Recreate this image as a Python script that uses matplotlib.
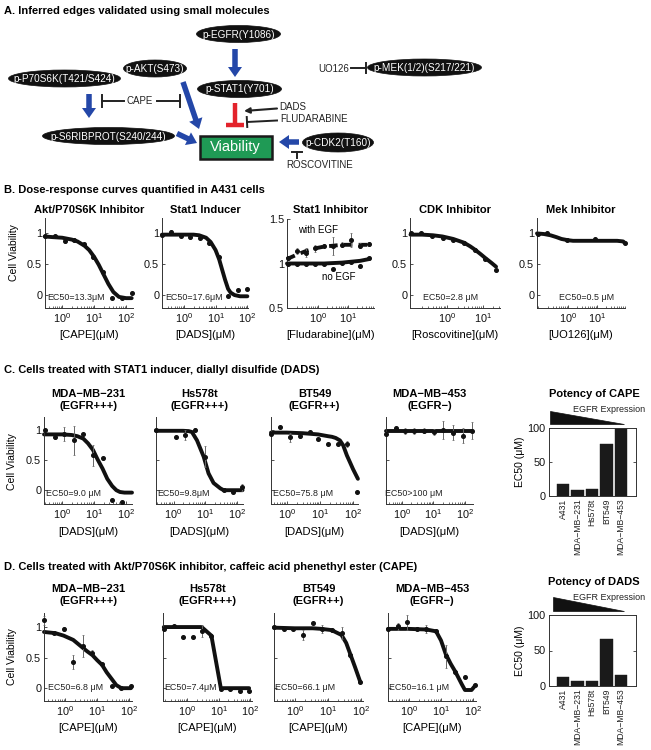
import numpy as np
import matplotlib
matplotlib.use('Agg')
import matplotlib.pyplot as plt
from matplotlib.patches import Ellipse, Rectangle, Polygon, FancyArrow
from matplotlib.ticker import FixedLocator, LogLocator, NullFormatter

plt.rcParams['font.family'] = ['Liberation Sans', 'DejaVu Sans']
plt.rcParams['mathtext.fontset'] = 'custom'
plt.rcParams['mathtext.rm'] = 'Liberation Sans'
plt.rcParams['mathtext.it'] = 'Liberation Sans:italic'
plt.rcParams['mathtext.bf'] = 'Liberation Sans:bold'

# ======================= DATA =======================
panel_titles = ['A. Inferred edges validated using small molecules',
                'B. Dose-response curves quantified in A431 cells',
                'C. Cells treated with STAT1 inducer, diallyl disulfide (DADS)',
                'D. Cells treated with Akt/P70S6K inhibitor, caffeic acid phenethyl ester (CAPE)']

# Panel A network
node_labels = ['p-EGFR(Y1086)', 'p-AKT(S473)', 'p-P70S6K(T421/S424)', 'p-STAT1(Y701)',
               'p-MEK(1/2)(S217/221)', 'p-S6RIBPROT(S240/244)', 'p-CDK2(T160)']
drug_labels = ['CAPE', 'DADS', 'FLUDARABINE', 'ROSCOVITINE', 'UO126']
outcome_label = 'Viability'

# Panel B (A431 cells)
b_titles = ['Akt/P70S6K Inhibitor', 'Stat1 Inducer', 'Stat1 Inhibitor', 'CDK Inhibitor', 'Mek Inhibitor']
b_xlabels = ['[CAPE](μM)', '[DADS](μM)', '[Fludarabine](μM)', '[Roscovitine](μM)', '[UO126](μM)']
b_ec50 = ['EC50=13.3μM', 'EC50=17.6μM', '', 'EC50=2.8 μM', 'EC50=0.5 μM']

b1_dose = [0.3, 0.6, 1.2, 2.3, 4.7, 9.4, 18.8, 37.5, 75, 150]
b1_resp = [0.96, 0.95, 0.87, 0.90, 0.83, 0.62, 0.37, -0.04, -0.05, 0.03]
b1_err = [0.02, 0.02, 0.03, 0.02, 0.02, 0.03, 0.03, 0.02, 0.02, 0.02]
b1_fitx = [0.29, 0.5, 1, 2, 3, 5, 7, 10, 14, 20, 28, 40, 60, 100, 150]
b1_fity = [0.95, 0.94, 0.93, 0.90, 0.87, 0.80, 0.73, 0.62, 0.49, 0.33, 0.18, 0.05, -0.03, -0.05, -0.05]

b2_dose = [0.2, 0.4, 0.8, 1.6, 3.2, 6.4, 12.8, 25.6, 51, 102]
b2_resp = [0.97, 1.03, 0.96, 0.94, 0.93, 0.85, 0.62, -0.02, 0.09, 0.10]
b2_err = [0.01, 0.02, 0.02, 0.03, 0.02, 0.02, 0.03, 0.01, 0.01, 0.01]
b2_fitx = [0.2, 1, 2, 3, 5, 7, 10, 13, 16, 20, 25, 30, 40, 60, 102]
b2_fity = [0.98, 0.98, 0.98, 0.97, 0.93, 0.86, 0.73, 0.58, 0.42, 0.25, 0.10, 0.04, 0.0, -0.02, -0.02]

b3_dose = [0.1, 0.2, 0.4, 0.8, 1.6, 3.2, 6.4, 12.8, 25.6, 51]
b3_egf_resp = [1.06, 1.14, 1.12, 1.17, 1.20, 1.20, 1.21, 1.26, 1.20, 1.22]
b3_egf_err = [0.02, 0.03, 0.05, 0.04, 0.02, 0.10, 0.03, 0.08, 0.03, 0.02]
b3_egf_fit = [1.05, 1.10, 1.14, 1.17, 1.19, 1.20, 1.21, 1.21, 1.21, 1.21]
b3_noegf_resp = [1.0, 1.0, 1.0, 0.99, 1.0, 0.94, 1.01, 1.02, 0.97, 1.06]
b3_noegf_err = [0.01, 0.01, 0.01, 0.01, 0.01, 0.01, 0.01, 0.01, 0.01, 0.01]
b3_noegf_fit = [1.0, 1.0, 1.0, 1.0, 1.0, 1.005, 1.01, 1.02, 1.03, 1.05]

b4_dose = [0.094, 0.19, 0.375, 0.75, 1.5, 3, 6, 12, 24]
b4_resp = [1.0, 1.01, 0.96, 0.92, 0.90, 0.85, 0.73, 0.58, 0.41]
b4_err = [0.01, 0.02, 0.01, 0.02, 0.01, 0.01, 0.02, 0.01, 0.02]
b4_fitx = [0.094, 0.2, 0.4, 0.75, 1.5, 3, 4.5, 6, 9, 12, 18, 24]
b4_fity = [0.98, 0.98, 0.97, 0.95, 0.91, 0.85, 0.79, 0.74, 0.66, 0.60, 0.52, 0.46]

b5_dose = [0.09, 0.19, 0.9, 8.5, 90]
b5_resp = [0.99, 1.01, 0.90, 0.91, 0.84]
b5_err = [0.01, 0.02, 0.01, 0.02, 0.01]
b5_fitx = [0.086, 0.15, 0.25, 0.4, 0.6, 1, 1.5, 3, 10, 50, 80, 90]
b5_fity = [1.0, 0.99, 0.97, 0.94, 0.91, 0.89, 0.88, 0.88, 0.88, 0.88, 0.87, 0.85]

# Panel C (DADS)
c_titles = ['MDA−MB−231\n(EGFR+++)', 'Hs578t\n(EGFR+++)', 'BT549\n(EGFR++)', 'MDA−MB−453\n(EGFR−)']
c_xlabel = '[DADS](μM)'
c_ec50 = ['EC50=9.0 μM', 'EC50=9.8μM', 'EC50=75.8 μM', 'EC50>100 μM']

c1_dose = [0.29, 0.58, 1.16, 2.3, 4.6, 9.3, 18.5, 37, 74]
c1_resp = [1.01, 0.88, 0.94, 0.83, 0.93, 0.58, 0.53, -0.17, -0.20]
c1_err = [0.01, 0.02, 0.12, 0.24, 0.02, 0.18, 0.02, 0.01, 0.01]
c1_fitx = [0.27, 1, 2, 3, 4.6, 6.5, 9.3, 13, 18.5, 26, 37, 50, 65, 90, 155]
c1_fity = [0.93, 0.93, 0.92, 0.90, 0.86, 0.78, 0.67, 0.51, 0.36, 0.19, 0.07, 0.0, -0.03, -0.04, -0.04]

c2_dose = [0.28, 1.18, 2.3, 4.6, 10, 38, 75, 145]
c2_resp = [1.0, 0.89, 0.92, 1.01, 0.56, 0.0, -0.03, 0.05]
c2_err = [0.01, 0.02, 0.08, 0.02, 0.18, 0.01, 0.01, 0.06]
c2_fitx = [0.28, 1, 2, 3, 3.8, 5.5, 8.9, 12.7, 18.3, 30, 38, 150]
c2_fity = [0.99, 0.99, 0.99, 0.985, 0.97, 0.83, 0.56, 0.28, 0.12, 0.03, 0.0, 0.0]

c3_dose = [0.33, 0.61, 1.23, 2.47, 4.97, 8.7, 17.5, 35, 65, 132]
c3_resp = [0.93, 1.05, 0.88, 0.90, 0.97, 0.86, 0.77, 0.77, 0.77, -0.03]
c3_err = [0.01, 0.02, 0.08, 0.03, 0.01, 0.01, 0.02, 0.02, 0.05, 0.01]
c3_fitx = [0.33, 1, 3, 8.7, 17.5, 23, 30, 40, 50, 65, 80, 100, 140]
c3_fity = [0.96, 0.96, 0.95, 0.93, 0.90, 0.89, 0.87, 0.83, 0.75, 0.58, 0.47, 0.35, 0.19]

c4_dose = [0.31, 0.64, 1.25, 2.4, 5.0, 10.3, 20, 41, 86, 167]
c4_resp = [0.93, 1.04, 0.99, 0.99, 0.99, 0.97, 1.01, 0.96, 0.91, 0.99]
c4_err = [0.01, 0.02, 0.05, 0.05, 0.04, 0.05, 0.15, 0.12, 0.13, 0.14]
c4_fitx = [0.31, 1, 10, 167]
c4_fity = [0.99, 0.99, 0.99, 0.99]

# Panel D (CAPE)
d_titles = ['MDA−MB−231\n(EGFR+++)', 'Hs578t\n(EGFR+++)', 'BT549\n(EGFR++)', 'MDA−MB−453\n(EGFR−)']
d_xlabel = '[CAPE](μM)'
d_ec50 = ['EC50=6.8 μM', 'EC50=7.4μM', 'EC50=66.1 μM', 'EC50=16.1 μM']

d1_dose = [0.22, 0.45, 0.9, 1.8, 3.6, 7.2, 14.4, 28.8, 57.6, 115]
d1_resp = [1.11, 0.91, 0.97, 0.43, 0.69, 0.58, 0.39, 0.03, 0.0, 0.03]
d1_err = [0.07, 0.01, 0.03, 0.11, 0.18, 0.04, 0.03, 0.01, 0.01, 0.01]
d1_fitx = [0.22, 0.5, 0.9, 1.8, 3.6, 5, 7.2, 10, 14.4, 20, 28.8, 40, 57.6, 115]
d1_fity = [0.92, 0.90, 0.86, 0.79, 0.66, 0.60, 0.54, 0.46, 0.38, 0.26, 0.15, 0.05, 0.0, 0.0]

d2_dose = [0.18, 0.37, 0.74, 1.5, 2.9, 5.9, 11.8, 23.5, 47, 94]
d2_resp = [0.97, 1.02, 0.83, 0.83, 0.93, 0.86, -0.01, -0.02, -0.05, -0.05]
d2_err = [0.01, 0.01, 0.01, 0.01, 0.10, 0.01, 0.01, 0.01, 0.01, 0.01]
d2_fitx = [0.18, 0.37, 0.74, 1.5, 2.9, 5.9, 11.8, 23.5, 47, 94]
d2_fity = [1.0, 1.0, 1.0, 1.0, 1.0, 0.86, 0.0, 0.0, 0.0, 0.0]

d3_dose = [0.236, 0.47, 0.87, 1.73, 3.45, 6.4, 12.7, 25.3, 47, 93]
d3_resp = [1.0, 0.97, 0.97, 0.87, 1.06, 0.97, 0.95, 0.90, 0.55, 0.10]
d3_err = [0.01, 0.01, 0.01, 0.08, 0.01, 0.07, 0.02, 0.10, 0.02, 0.02]
d3_fitx = [0.236, 1, 3.45, 6.4, 12.7, 25.3, 35, 47, 65, 93]
d3_fity = [0.99, 0.98, 0.98, 0.97, 0.95, 0.87, 0.74, 0.55, 0.34, 0.10]

d4_dose = [0.22, 0.44, 0.88, 1.75, 3.5, 7, 14, 28, 56, 112]
d4_resp = [0.97, 1.01, 1.08, 0.97, 0.97, 0.94, 0.52, 0.27, 0.18, 0.06]
d4_err = [0.01, 0.05, 0.12, 0.01, 0.07, 0.02, 0.19, 0.01, 0.01, 0.01]
d4_fitx = [0.22, 1, 3.5, 7, 10, 14, 20, 28, 45, 56, 90, 112]
d4_fity = [0.97, 0.97, 0.96, 0.93, 0.78, 0.56, 0.40, 0.27, 0.06, -0.03, -0.03, 0.03]

# Bar charts
bar_cells = ['A431', 'MDA−MB−231', 'Hs578t', 'BT549', 'MDA−MB−453']
bar_c_title = 'Potency of CAPE'
bar_c_values = [17.6, 9.0, 9.8, 75.8, 100]
bar_d_title = 'Potency of DADS'
bar_d_values = [13.3, 6.8, 7.4, 66.1, 16.1]
bar_ylabel = 'EC50 (μM)'
bar_note = 'EGFR Expression'
ylab = 'Cell Viability'

# ======================= FIGURE =======================
W, H = 651, 750
fig = plt.figure(figsize=(W / 100, H / 100), dpi=100)
INK = '#111111'
BLUE = '#2447a8'
RED = '#e3232b'
GREEN = '#1f9a55'


def add_ax(l, t, r, b):
    ax = fig.add_axes([l / W, 1 - b / H, (r - l) / W, (b - t) / H])
    ax.set_facecolor('none')
    return ax


def ftext(x, y, s, **kw):
    return fig.text(x / W, 1 - y / H, s, **kw)


# ---------- Panel A diagram (pixel coordinates overlay) ----------
dg = fig.add_axes([0, 0, 1, 1])
dg.set_xlim(0, W)
dg.set_ylim(H, 0)
dg.axis('off')

node_geom = [(238.5, 34, 84, 17), (155, 68.5, 63, 17), (64.5, 78.5, 112, 17), (239.5, 89, 84, 17),
             (424.5, 67.5, 114, 17), (108.5, 136, 132, 17), (338, 142.5, 71, 19)]
for lab, (cx, cy, w, h) in zip(node_labels, node_geom):
    dg.add_patch(Ellipse((cx, cy), w, h, facecolor=INK, edgecolor=INK, lw=0.5))
    dg.text(cx, cy + 0.5, lab, color='white', fontsize=7.2, ha='center', va='center')

dg.add_patch(Rectangle((199.5, 135.5), 72.5, 23.5, facecolor=GREEN, edgecolor='#1a1a1a', lw=1.8))
dg.text(235.5, 147.5, outcome_label, color='white', fontsize=10.5, ha='center', va='center')

blue_arrows = [((235, 49), (235, 77)), ((89, 94), (89, 118)), ((183, 82), (199, 129)),
               ((177, 133.5), (197, 143)), ((299, 142), (279, 142))]
for (x0, y0), (x1, y1) in blue_arrows:
    dg.add_patch(FancyArrow(x0, y0, x1 - x0, y1 - y0, width=5.5, head_width=14, head_length=10,
                            length_includes_head=True, facecolor=BLUE, edgecolor=BLUE, lw=0))

# red inhibition STAT1 -> Viability
dg.plot([235, 235], [103, 125], color=RED, lw=3.2, solid_capstyle='butt')
dg.plot([226, 244], [125, 125], color=RED, lw=3.2, solid_capstyle='butt')


def inhibit(x0, y0, x1, y1, half=6, lw=1.4):
    dg.plot([x0, x1], [y0, y1], color='#222222', lw=lw)
    dx, dy = x1 - x0, y1 - y0
    n = np.hypot(dx, dy)
    px, py = -dy / n * half, dx / n * half
    dg.plot([x1 - px, x1 + px], [y1 - py, y1 + py], color='#222222', lw=lw)


# CAPE
dg.text(140, 101, drug_labels[0], fontsize=7, ha='center', va='center', color='#222222')
inhibit(124, 101, 102, 101)
inhibit(157, 101, 180, 101)
# DADS arrow
dg.annotate('', xy=(244, 111), xytext=(277, 108.5),
            arrowprops=dict(arrowstyle='-|>', lw=1.5, color='#222222', mutation_scale=8,
                            shrinkA=0, shrinkB=0))
dg.text(279, 107, drug_labels[1], fontsize=7, ha='left', va='center', color='#222222')
# FLUDARABINE
inhibit(277, 120.5, 247, 122, half=5)
dg.text(280, 119, drug_labels[2], fontsize=7, ha='left', va='center', color='#222222')
# ROSCOVITINE
inhibit(297, 158, 297, 151.5, half=5)
dg.text(320, 165, drug_labels[3], fontsize=7, ha='center', va='center', color='#222222')
# UO126
dg.text(318, 68.5, drug_labels[4], fontsize=7, ha='left', va='center', color='#222222')
inhibit(351, 68, 366, 68, half=5)

# triangles for bar charts
dg.add_patch(Polygon([(550, 411), (550, 424), (624, 424)], closed=True, facecolor=INK, edgecolor=INK, lw=0.5))
dg.add_patch(Polygon([(553, 597), (553, 611), (624, 611)], closed=True, facecolor=INK, edgecolor=INK, lw=0.5))

# ---------- panel titles ----------
for s, y in zip(panel_titles, [11, 190, 370, 567]):
    ftext(4, y, s, fontsize=8, fontweight='bold', ha='left', va='center')


# ---------- dose-response helper ----------
def draw_dr(box, xlim, ylim, xticks, yticks, ylabels, series, title=None, title_y=None,
            xlabel=None, xlabel_y=None, ec50=None, ec50_pos=None):
    l, t, r, b = box
    ax = add_ax(l, t, r, b)
    ax.set_xscale('log')
    ax.set_xlim(*xlim)
    ax.set_ylim(*ylim)
    for sp in ['top', 'right']:
        ax.spines[sp].set_visible(False)
    for sp in ['left', 'bottom']:
        ax.spines[sp].set_linewidth(0.7)
        ax.spines[sp].set_color('#333333')
    ax.xaxis.set_major_locator(FixedLocator(xticks))
    ax.xaxis.set_minor_locator(LogLocator(base=10, subs=np.arange(2, 10)))
    ax.xaxis.set_minor_formatter(NullFormatter())
    ax.set_yticks(yticks)
    if ylabels:
        ax.set_yticklabels(ylabels)
    else:
        ax.set_yticklabels([])
    ax.tick_params(which='major', direction='in', length=2.5, width=0.6, labelsize=7.8, pad=2,
                   colors='#333333', labelcolor='#111111')
    ax.tick_params(which='minor', direction='in', length=1.5, width=0.5, colors='#333333')
    for dose, resp, err, fx_, fy_, ls in series:
        ax.plot(fx_, fy_, color=INK, lw=2.8, ls=ls, solid_capstyle='round', zorder=2, clip_on=False)
        ax.errorbar(dose, resp, yerr=err, fmt='o', ms=2.6, color=INK, ecolor='#666666',
                    elinewidth=0.7, capsize=1.0, capthick=0.5, zorder=3, clip_on=False)
    cx = (l + r) / 2
    if title:
        ftext(cx, title_y, title, fontsize=8, fontweight='bold', ha='center', va='center',
              linespacing=1.15)
    if xlabel:
        ftext(cx, xlabel_y, xlabel, fontsize=8, ha='center', va='center')
    if ec50:
        ftext(ec50_pos[0], ec50_pos[1], ec50, fontsize=6.4, ha='left', va='center', color='#222222')
    return ax


SOLID = '-'
YT = [0, 0.5, 1]
YTL = ['0', '0.5', '1']

# ---------- Panel B ----------
bt, bb = 218, 308
bylim = (-0.21, 1.25)
b_boxes = [(45, bt, 133, bb), (162, bt, 248, bb), (287, 219, 374, bb), (410, bt, 500, bb), (537, bt, 625, bb)]
b_xlims = [(0.29, 165), (0.2, 107), (0.093, 74), (0.091, 31), (0.086, 93)]
b_xticks = [[1, 10, 100], [1, 10, 100], [1, 10], [1, 10], [1, 10]]
b_series = [
    [(b1_dose, b1_resp, b1_err, b1_fitx, b1_fity, SOLID)],
    [(b2_dose, b2_resp, b2_err, b2_fitx, b2_fity, SOLID)],
    [(b3_dose, b3_noegf_resp, b3_noegf_err, [0.093] + b3_dose[1:], b3_noegf_fit, SOLID),
     (b3_dose, b3_egf_resp, b3_egf_err, [0.093] + b3_dose[1:], b3_egf_fit, (0, (2.2, 1.6)))],
    [(b4_dose, b4_resp, b4_err, b4_fitx, b4_fity, SOLID)],
    [(b5_dose, b5_resp, b5_err, b5_fitx, b5_fity, SOLID)],
]
b_ec50_pos = [(47, 298), (165, 298), None, (423, 297), (559, 297)]
for i in range(5):
    if i == 2:
        ylim, yt, ytl = (0.5, 1.5), [0.5, 1, 1.5], ['0.5', '1', '1.5']
    else:
        ylim, yt, ytl = bylim, YT, YTL
    draw_dr(b_boxes[i], b_xlims[i], ylim, b_xticks[i], yt, ytl, b_series[i],
            title=b_titles[i], title_y=210, xlabel=b_xlabels[i], xlabel_y=335,
            ec50=b_ec50[i] if b_ec50[i] else None, ec50_pos=b_ec50_pos[i])
ftext(298, 230, 'with EGF', fontsize=7, ha='left', va='center')
ftext(322, 277, 'no EGF', fontsize=7, ha='left', va='center')
ftext(14, 253, ylab, fontsize=7.5, rotation=90, ha='center', va='center')

# ---------- Panel C ----------
ct, cb = 417, 504
cylim = (-0.23, 1.22)
c_boxes = [(44, ct, 132, cb), (156, ct, 243, cb), (271, ct, 358, cb), (386, ct, 473, cb)]
c_xlims = [(0.27, 155), (0.28, 155), (0.33, 141), (0.31, 180)]
c_series = [[(c1_dose, c1_resp, c1_err, c1_fitx, c1_fity, SOLID)],
            [(c2_dose, c2_resp, c2_err, c2_fitx, c2_fity, SOLID)],
            [(c3_dose, c3_resp, c3_err, c3_fitx, c3_fity, SOLID)],
            [(c4_dose, c4_resp, c4_err, c4_fitx, c4_fity, SOLID)]]
c_ec50_x = [46, 157, 273, 385]
for i in range(4):
    draw_dr(c_boxes[i], c_xlims[i], cylim, [1, 10, 100], YT, YTL if i == 0 else None, c_series[i],
            title=c_titles[i], title_y=400, xlabel=c_xlabel, xlabel_y=532,
            ec50=c_ec50[i], ec50_pos=(c_ec50_x[i], 494))
ftext(12, 462, ylab, fontsize=7.5, rotation=90, ha='center', va='center')

# ---------- Panel D ----------
dt, db = 613, 701
dylim = (-0.21, 1.23)
d_boxes = [(44, dt, 132, db), (163, dt, 252, db), (274, dt, 363, db), (388, dt, 476, db)]
d_xlims = [(0.22, 124), (0.17, 116), (0.236, 112), (0.22, 124)]
d_series = [[(d1_dose, d1_resp, d1_err, d1_fitx, d1_fity, SOLID)],
            [(d2_dose, d2_resp, d2_err, d2_fitx, d2_fity, SOLID)],
            [(d3_dose, d3_resp, d3_err, d3_fitx, d3_fity, SOLID)],
            [(d4_dose, d4_resp, d4_err, d4_fitx, d4_fity, SOLID)]]
d_ec50_x = [48, 164, 275, 389]
for i in range(4):
    draw_dr(d_boxes[i], d_xlims[i], dylim, [1, 10, 100], YT, YTL if i == 0 else None, d_series[i],
            title=d_titles[i], title_y=595, xlabel=d_xlabel, xlabel_y=728,
            ec50=d_ec50[i], ec50_pos=(d_ec50_x[i], 688))
ftext(12, 657, ylab, fontsize=7.5, rotation=90, ha='center', va='center')


# ---------- Bar charts ----------
def draw_bar(box, values, title, title_y, note_y):
    l, t, r, b = box
    ax = add_ax(l, t, r, b)
    pos = np.arange(1, len(values) + 1)
    ax.bar(pos, values, width=0.86, color='#1a1a1a', edgecolor='#1a1a1a', lw=0.3)
    ax.set_xlim(0, 6)
    ax.set_ylim(0, 100)
    ax.set_yticks([0, 50, 100])
    ax.set_xticks(pos)
    ax.set_xticklabels(bar_cells, rotation=90, fontsize=6.2)
    ax.tick_params(axis='y', direction='in', length=2.5, width=0.6, labelsize=7.8, pad=2,
                   right=True, colors='#333333', labelcolor='#111111')
    ax.tick_params(axis='x', direction='in', length=0, pad=2, labelcolor='#222222')
    for sp in ax.spines.values():
        sp.set_linewidth(0.7)
        sp.set_color('#333333')
    ax.set_ylabel(bar_ylabel, fontsize=7.5, labelpad=2)
    ftext((l + r) / 2 + 2, title_y, title, fontsize=8, fontweight='bold', ha='center', va='center')
    ftext(645, note_y, bar_note, fontsize=6.5, ha='right', va='center', color='#222222')
    return ax


draw_bar((548.5, 428, 635.5, 496), bar_c_values, bar_c_title, 394, 409)
draw_bar((548.5, 615, 635.5, 686), bar_d_values, bar_d_title, 582, 597)

fig.savefig('out.png', dpi=100)
